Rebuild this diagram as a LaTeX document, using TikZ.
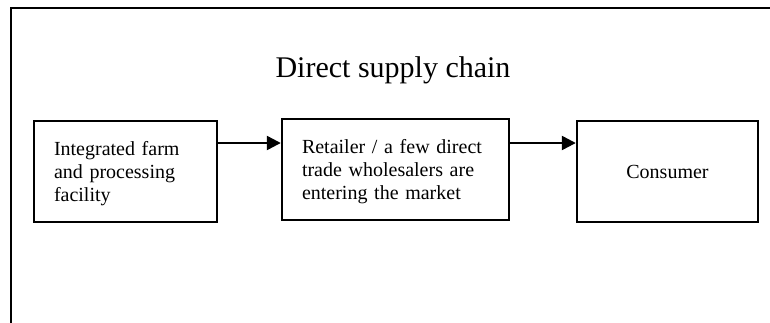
\documentclass[tikz,border=0pt]{standalone}
\usepackage{fontspec}
\setmainfont{Liberation Serif}
\usetikzlibrary{arrows.meta}

\begin{document}
\begin{tikzpicture}[x=1pt,y=-1pt,
  stage/.style={draw, line width=2.4pt, minimum height=101pt, inner ysep=0pt,
    font=\fontsize{20}{23}\selectfont},
  flow/.style={line width=2.4pt, -{Triangle[length=14pt,width=14pt]}},
  frameline/.style={line width=2.4pt, line join=miter}]
\useasboundingbox (0,0) rectangle (770,322);

% open frame around the chart
\coordinate (fr1) at (772,8);
\coordinate (fr2) at (11,8);
\coordinate (fr3) at (11,324);
\draw[frameline] (fr1) -- (fr2) -- (fr3);

% heading
\node[anchor=base, font=\fontsize{30}{36}\selectfont, inner sep=0pt] (title) at (393,77) {Direct supply chain};

% the three stages
\node[stage, minimum width=183pt, text width=143pt, inner xsep=20pt, align=left] (b1) at (125.5,171.5)
  {\rule{0pt}{18pt}Integrated farm\\and processing\\facility};
\node[stage, minimum width=227pt, text width=187pt, inner xsep=20pt, align=left] (b2) at (395.5,169.5)
  {\rule{0pt}{18pt}Retailer / a few direct\\trade wholesalers are\\entering the market};
\node[stage, minimum width=181pt, align=center] (b3) at (667.5,171.5) {Consumer};

% flow between stages
\draw[flow] (b1.east |- 0,143) -- (b2.west |- 0,143);
\draw[flow] (b2.east |- 0,143) -- (b3.west |- 0,143);
\end{tikzpicture}
\end{document}
